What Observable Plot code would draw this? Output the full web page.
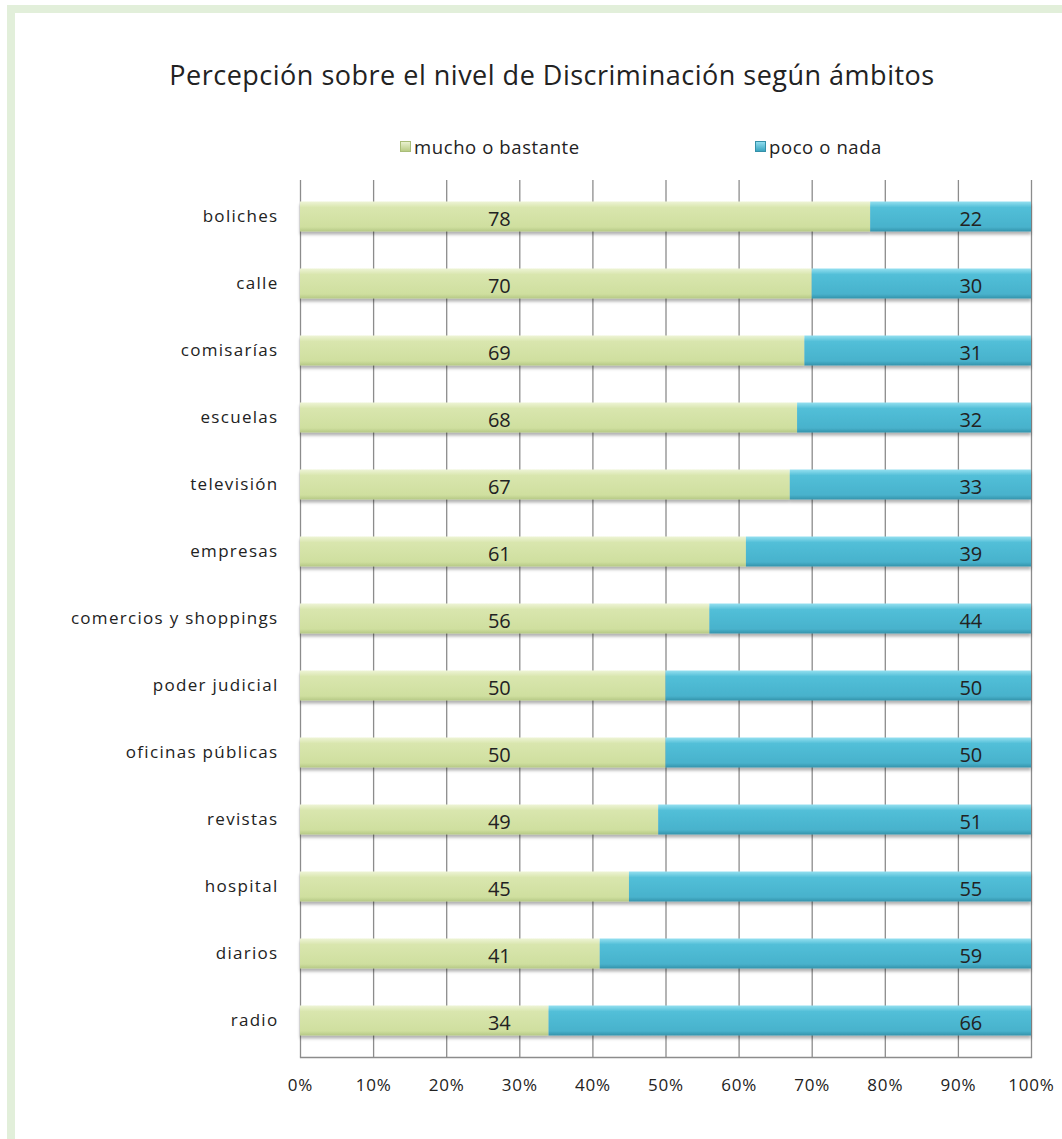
<!DOCTYPE html>
<html>
<head>
<meta charset="utf-8">
<script src="https://cdn.jsdelivr.net/npm/d3@7"></script>
<script src="https://cdn.jsdelivr.net/npm/@observablehq/plot@0.6"></script>
<style>
  html, body { margin: 0; padding: 0; background: #fff; }
  body { width: 1062px; height: 1139px; position: relative; overflow: hidden; font-family: "Open Sans", sans-serif; }
  #frame { position: absolute; left: 7px; top: 5px; width: 1100px; height: 1200px; border-left: 8px solid #e2efda; border-top: 8px solid #e2efda; box-sizing: border-box; }
  #title { position: absolute; left: 0; width: 1104px; top: 56px; text-align: center; font-size: 27px; letter-spacing: 0.5px; color: #222; white-space: nowrap; }
  .leg { position: absolute; top: 134px; font-size: 18.5px; letter-spacing: 0.6px; color: #222; display: flex; align-items: center; white-space: nowrap; }
  .sw { width: 11px; height: 11px; margin-right: 3px; box-sizing: border-box; }
  #chart { position: absolute; left: 0; top: 170px; }
  #chart svg g[aria-label="y-axis tick label"] text { letter-spacing: 1.3px; }
  #chart svg g[aria-label="x-axis tick label"] text { letter-spacing: 0.8px; }
</style>
</head>
<body>
<div id="frame"></div>
<div id="title">Percepción sobre el nivel de Discriminación según ámbitos</div>
<div class="leg" style="left:400px"><div class="sw" style="background:linear-gradient(#e9f1cf,#b9cc85);border:1px solid #a9bd78"></div>mucho o bastante</div>
<div class="leg" style="left:755px"><div class="sw" style="background:linear-gradient(#8fdcee,#3aa5c0);border:1px solid #3590a8"></div>poco o nada</div>
<div id="chart"></div>
<script>
const categories = ["boliches","calle","comisarías","escuelas","televisión","empresas","comercios y shoppings","poder judicial","oficinas públicas","revistas","hospital","diarios","radio"];
const mucho = [78,70,69,68,67,61,56,50,50,49,45,41,34];
const poco = [22,30,31,32,33,39,44,50,50,51,55,59,66];
const seriesNames = ["mucho o bastante", "poco o nada"];
const xTicks = [0,10,20,30,40,50,60,70,80,90,100];

const rows = [];
categories.forEach((c, i) => {
  rows.push({cat: c, serie: seriesNames[0], v: mucho[i]});
  rows.push({cat: c, serie: seriesNames[1], v: poco[i]});
});

const plot = Plot.plot({
  width: 1062,
  height: 969,
  marginTop: 10,
  marginBottom: 82,
  marginLeft: 300,
  marginRight: 31,
  style: {fontFamily: "Open Sans, sans-serif", fontSize: "17px", color: "#222", background: "transparent"},
  x: {domain: [0, 100], ticks: xTicks, tickFormat: d => d + "%", tickSize: 0, tickPadding: 21, label: null},
  y: {domain: categories, padding: 0, tickSize: 0, tickPadding: 22, label: null},
  color: {domain: seriesNames, range: ["url(#gGreen)", "url(#gBlue)"]},
  marks: [
    Plot.gridX(xTicks, {stroke: "#8c8c8c", strokeOpacity: 1, strokeWidth: 1.3}),
    Plot.frame({anchor: "bottom", stroke: "#8c8c8c", strokeWidth: 1.3}),
    Plot.barX(rows, Plot.stackX({x: "v", y: "cat", fill: "serie", insetTop: 18.5, insetBottom: 18.5, order: seriesNames})),
    Plot.text(categories, {x: () => 27.2, y: d => d, text: (d, i) => String(mucho[i]), dy: 3, fontSize: 20, fill: "#222"}),
    Plot.text(categories, {x: () => 91.7, y: d => d, text: (d, i) => String(poco[i]), dy: 3, fontSize: 20, fill: "#222"})
  ]
});

const svg = d3.select(plot);
const defs = svg.insert("defs", ":first-child");
const g1 = defs.append("linearGradient").attr("id", "gGreen").attr("x1", 0).attr("x2", 0).attr("y1", 0).attr("y2", 1);
g1.append("stop").attr("offset", "0%").attr("stop-color", "#eef4d6");
g1.append("stop").attr("offset", "20%").attr("stop-color", "#d9e6ae");
g1.append("stop").attr("offset", "85%").attr("stop-color", "#cfdf9f");
g1.append("stop").attr("offset", "100%").attr("stop-color", "#b5c885");
const g2 = defs.append("linearGradient").attr("id", "gBlue").attr("x1", 0).attr("x2", 0).attr("y1", 0).attr("y2", 1);
g2.append("stop").attr("offset", "0%").attr("stop-color", "#95e0f0");
g2.append("stop").attr("offset", "20%").attr("stop-color", "#52bfd8");
g2.append("stop").attr("offset", "85%").attr("stop-color", "#48b2cc");
g2.append("stop").attr("offset", "100%").attr("stop-color", "#3593ab");
const f = defs.append("filter").attr("id", "shadow").attr("x", "-5%").attr("y", "-20%").attr("width", "110%").attr("height", "160%");
f.append("feDropShadow").attr("dx", 0).attr("dy", 3).attr("stdDeviation", 1.5).attr("flood-color", "#000").attr("flood-opacity", 0.3);
svg.selectAll("g[aria-label='bar']").attr("filter", "url(#shadow)");

document.getElementById("chart").appendChild(plot);
</script>
</body>
</html>
